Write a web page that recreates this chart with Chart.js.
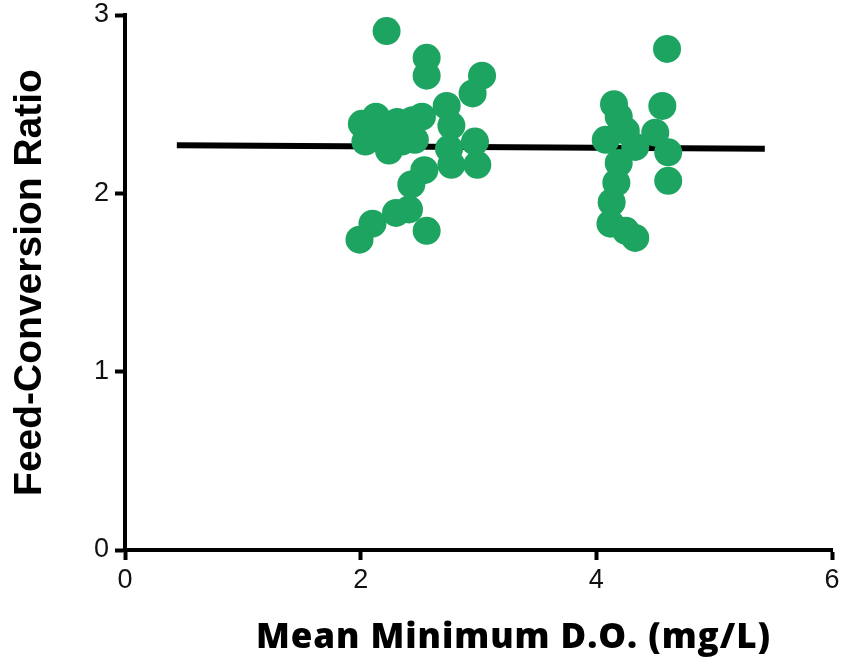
<!DOCTYPE html>
<html>
<head>
<meta charset="utf-8">
<script src="https://cdn.jsdelivr.net/npm/chart.js@4.4.1/dist/chart.umd.min.js"></script>
<style>
  html, body { margin: 0; padding: 0; background: #fff; }
  #wrap { width: 846px; height: 665px; }
</style>
</head>
<body>
<div id="wrap"><canvas id="fcrChart" width="846" height="665"></canvas></div>
<script>
// Mean minimum D.O. (mg/L) and feed-conversion ratio
const doValues = [
  2.22, 2.56, 2.56, 3.03, 2.95,
  2.01, 2.04, 2.13, 2.18, 2.24, 2.31, 2.35, 2.44, 2.46, 2.52, 2.73, 2.77, 2.75, 2.77, 2.97, 2.99, 2.43, 2.54,
  1.99, 2.10, 2.30, 2.41, 2.56,
  4.60, 4.15, 4.56, 4.08, 4.25, 4.33, 4.50, 4.61, 4.61, 4.19, 4.17, 4.13, 4.12, 4.33, 4.25, 4.19
]
const fcrValues = [
  2.91, 2.76, 2.66, 2.66, 2.56,
  2.39, 2.29, 2.43, 2.32, 2.24, 2.40, 2.29, 2.41, 2.30, 2.43, 2.49, 2.38, 2.25, 2.16, 2.29, 2.16, 2.05, 2.13,
  1.74, 1.83, 1.89, 1.91, 1.79,
  2.81, 2.50, 2.49, 2.30, 2.35, 2.26, 2.34, 2.23, 2.07, 2.17, 2.06, 1.95, 1.83, 1.75, 1.79, 2.43
]
// mean line ends
const meanLineX = [0.44, 5.43]
const meanLineY = [2.27, 2.25]

const xTicks = [0, 2, 4, 6]
const yTicks = [0, 1, 2, 3]
const xTitle = 'Mean Minimum D.O. (mg/L)'

const green = '#1ca460'
const tickFont = { family: "'Liberation Sans Narrow', 'Liberation Sans', Arial, sans-serif", size: 27 }

const scatterData = doValues.map((x, i) => ({ x: x, y: fcrValues[i] }))
const lineData = meanLineX.map((x, i) => ({ x: x, y: meanLineY[i] }))

// x title sits a bit right of the plot centre in the original, so draw it by hand
const xTitlePlugin = {
  id: 'xTitle',
  afterDraw: (chart) => {
    const ctx = chart.ctx
    ctx.save()
    ctx.font = "800 35px 'Open Sans', Lato, sans-serif"
    const w = ctx.measureText(xTitle).width
    const spacing = Math.max(0, (515 - w) / xTitle.length)
    ctx.letterSpacing = spacing + 'px'
    ctx.fillStyle = '#000'
    ctx.textAlign = 'center'
    ctx.textBaseline = 'middle'
    ctx.fillText(xTitle, 513 + spacing / 2, 638)
    ctx.restore()
  }
}

new Chart(document.getElementById("fcrChart"), {
  type: "scatter",
  data: {
    datasets: [
      {
        label: "mean",
        type: "line",
        data: lineData,
        borderColor: '#000',
        borderWidth: 6,
        pointRadius: 0,
        borderCapStyle: 'butt',
        order: 2
      },
      {
        label: "FCR",
        data: scatterData,
        backgroundColor: green,
        borderColor: green,
        borderWidth: 0,
        pointRadius: 14,
        order: 1
      }
    ]
  },
  plugins: [xTitlePlugin],
  options: {
    responsive: false,
    animation: false,
    layout: { padding: { top: 15, right: 13, left: 0, bottom: 0 } },
    plugins: {
      legend: { display: false },
      tooltip: { enabled: false }
    },
    scales: {
      x: {
        type: 'linear',
        min: 0,
        max: 6,
        afterFit: (scale) => { scale.height = 115; scale.paddingLeft = 0; scale.paddingRight = 0 },
        afterBuildTicks: (scale) => { scale.ticks = xTicks.map(v => ({ value: v })) },
        border: { display: true, color: '#000', width: 4 },
        grid: { display: true, drawOnChartArea: false, drawTicks: true, tickLength: 10, tickWidth: 4, color: '#000' },
        ticks: { color: '#111', font: tickFont, padding: 4, maxRotation: 0 }
      },
      y: {
        type: 'linear',
        min: 0,
        max: 3,
        afterFit: (scale) => { scale.width = 125; scale.paddingTop = 0; scale.paddingBottom = 0 },
        afterBuildTicks: (scale) => { scale.ticks = yTicks.map(v => ({ value: v })) },
        border: { display: true, color: '#000', width: 4 },
        grid: { display: true, drawOnChartArea: false, drawTicks: true, tickLength: 10, tickWidth: 4, color: '#000' },
        ticks: { color: '#111', font: tickFont, padding: 6 },
        title: {
          display: true,
          text: 'Feed-Conversion Ratio',
          color: '#000',
          font: { family: "'Liberation Sans', Arial, sans-serif", size: 39, weight: 'bold' },
          padding: { top: 7, bottom: 0 }
        }
      }
    }
  }
})
</script>
</body>
</html>
